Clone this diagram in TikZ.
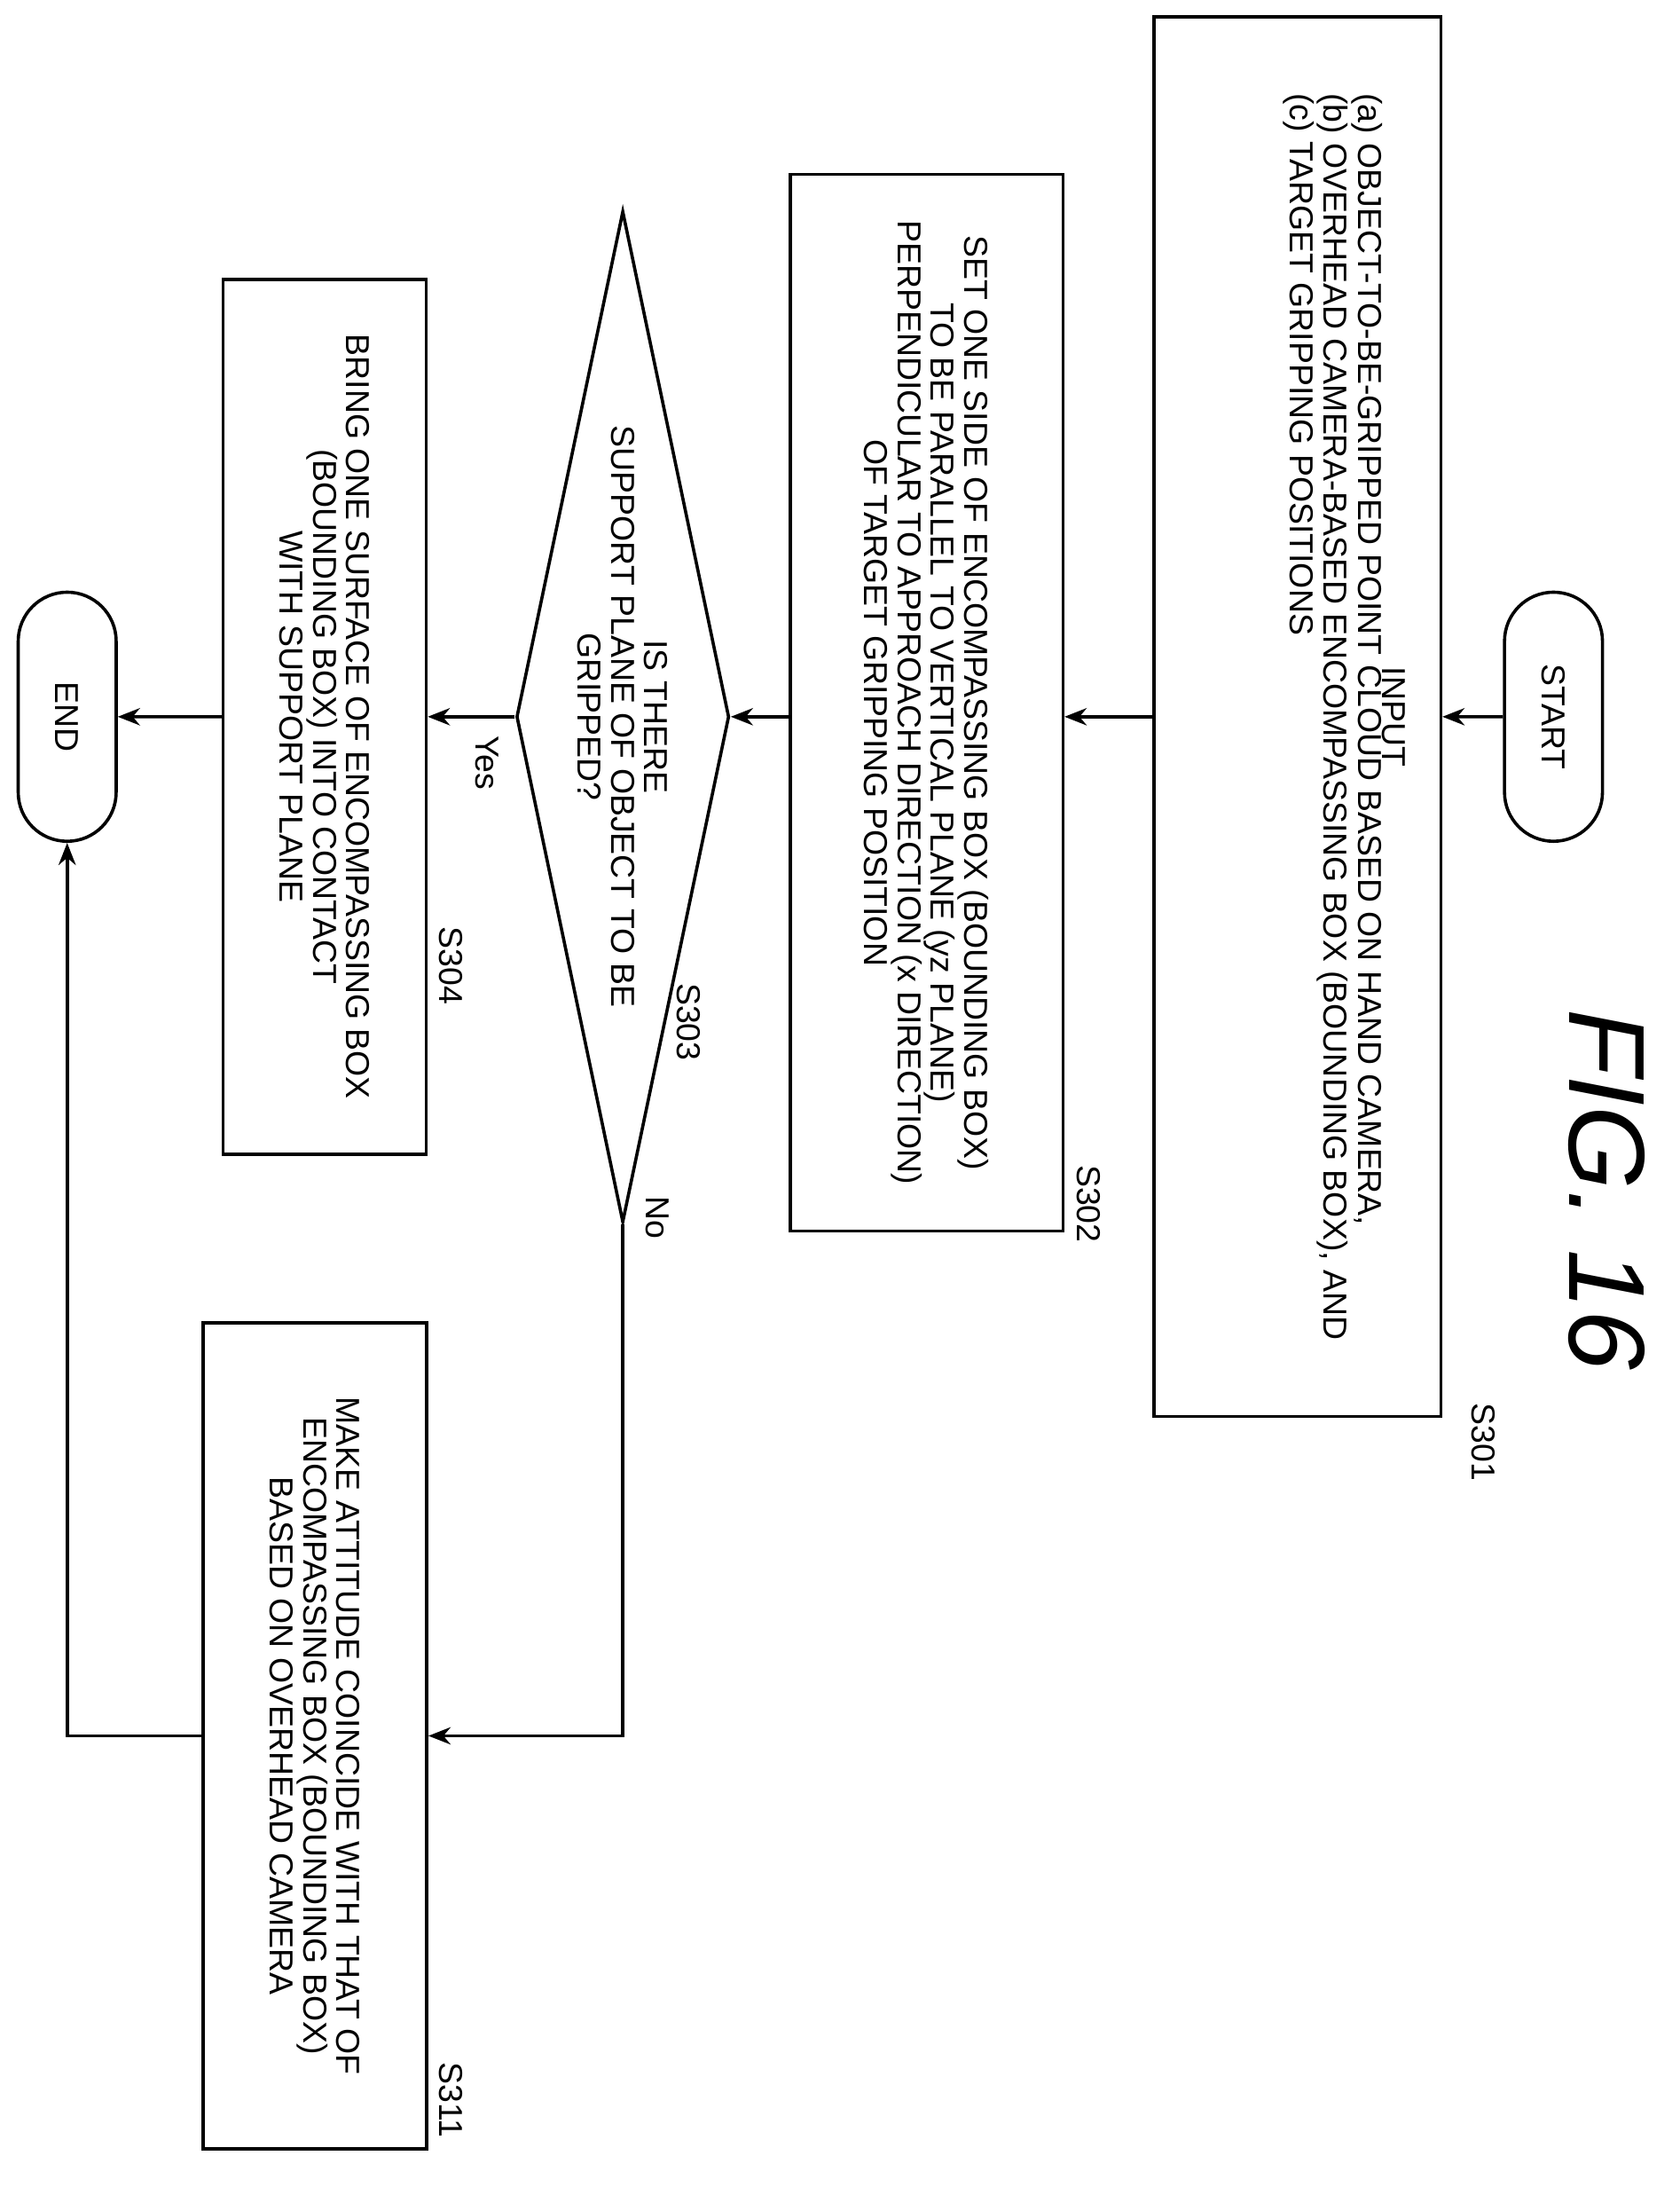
\documentclass[tikz,border=0pt]{standalone}
\usepackage{fontspec}
\setmainfont{Liberation Sans}
\usetikzlibrary{shapes.geometric,shapes.misc,arrows.meta}
\tikzset{
  base/.style={draw,line width=1.3pt,rotate=-90,font=\fontsize{13.5}{13.6}\selectfont,align=center,inner sep=2pt},
  box/.style={base,rectangle},
  term/.style={base,rounded rectangle,minimum width=3.7cm,minimum height=1.4cm},
  dec/.style={base,diamond,aspect=4.75,inner sep=0pt,minimum width=13.3cm,minimum height=2.8cm},
  steplabel/.style={rotate=-90,font=\fontsize{13.5}{13.6}\selectfont},
  flow/.style={line width=1.3pt,-{Stealth[length=9pt,width=7pt]}}
}
\begin{document}
\begin{tikzpicture}[x=0.02cm,y=-0.02cm]
  \useasboundingbox (0,0) rectangle (1200,1568);
  % terminals and steps
  \node[term] (start) at (1110,512) {START};
  \node[box,minimum width=20cm,minimum height=4.1cm] (s301) at (927,512)
    {INPUT\\[-1pt]
     \begin{tabular}{@{}l@{}}
     (a) OBJECT-TO-BE-GRIPPED POINT CLOUD BASED ON HAND CAMERA,\\
     (b) OVERHEAD CAMERA-BASED ENCOMPASSING BOX (BOUNDING BOX), AND\\
     (c) TARGET GRIPPING POSITIONS\end{tabular}\\[36pt]};
  \node[box,minimum width=15.1cm,minimum height=3.9cm] (s302) at (662,502)
    {SET ONE SIDE OF ENCOMPASSING BOX (BOUNDING BOX)\\TO BE PARALLEL TO VERTICAL PLANE (yz PLANE)\\
     PERPENDICULAR TO APPROACH DIRECTION (x DIRECTION)\\OF TARGET GRIPPING POSITION};
  \node[dec] (s303) at (445,512) {IS THERE\\SUPPORT PLANE OF OBJECT TO BE\\GRIPPED?};
  \node[box,minimum width=12.5cm,minimum height=2.9cm] (s304) at (232,512)
    {BRING ONE SURFACE OF ENCOMPASSING BOX\\(BOUNDING BOX) INTO CONTACT\\WITH SUPPORT PLANE};
  \node[box,minimum width=11.8cm,minimum height=3.2cm] (s311) at (225,1240)
    {MAKE ATTITUDE COINCIDE WITH THAT OF\\ENCOMPASSING BOX (BOUNDING BOX)\\BASED ON OVERHEAD CAMERA};
  \node[term] (end) at (48,512) {END};
  % step labels
  \node[steplabel] at (1060,1030) {S301};
  \node[steplabel] at (778,860) {S302};
  \node[steplabel] at (492,730) {S303};
  \node[steplabel] at (322,690) {S304};
  \node[steplabel] at (322,1500) {S311};
  \node[steplabel] (yes) at (348,545) {Yes};
  \node[steplabel] (no) at (470,870) {No};
  \node[rotate=-90,font=\fontsize{44}{44}\selectfont\itshape] (fig) at (1148,850) {FIG. 16};
  % connectors
  \draw[flow] (start) -- (s301);
  \draw[flow] (s301) -- (s302.north|-s301);
  \draw[flow] (s302.south|-s303) -- (s303);
  \draw[flow] (s303) -- (s304);
  \draw[flow] (s304) -- (end);
  \draw[flow] (s303.east) |- (s311.north);
  \draw[flow] (s311.south) -| (end.east);
\end{tikzpicture}
\end{document}
